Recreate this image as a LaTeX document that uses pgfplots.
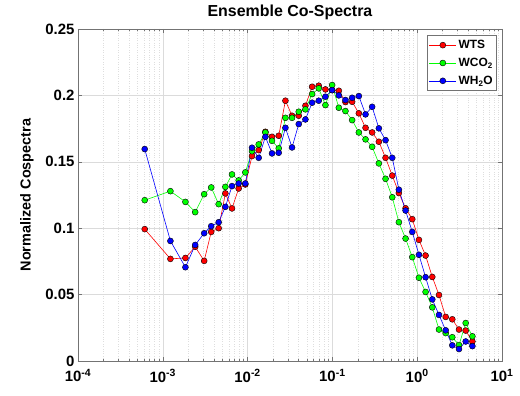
\documentclass[border=0pt]{standalone}
\usepackage{pgfplots}
\pgfplotsset{compat=1.18}
\usepackage{pgfplotstable}
\usepackage{fontspec}
\setmainfont{Liberation Sans}
\definecolor{mred}{RGB}{255,0,0}
\definecolor{mgreen}{RGB}{0,255,0}
\definecolor{mblue}{RGB}{0,0,255}
\pgfplotstableread{
f R G B
6.12e-4 0.0993 0.1211 0.1596
1.230e-3 0.0769 0.1279 0.0904
1.849e-3 0.0776 0.1198 0.0706
2.410e-3 0.0860 0.1121 0.0874
3.076e-3 0.0754 0.1256 0.0962
3.724e-3 0.0972 0.1307 0.1015
4.56e-3 0.1000 0.1181 0.1045
5.47e-3 0.1262 0.1311 0.1161
6.55e-3 0.1149 0.1405 0.1317
7.85e-3 0.1299 0.1360 0.1337
9.40e-3 0.1329 0.1420 0.1337
1.127e-2 0.1543 0.1580 0.1606
1.352e-2 0.1588 0.1631 0.1530
1.621e-2 0.1726 0.1721 0.1688
1.941e-2 0.1688 0.1658 0.1563
2.328e-2 0.1696 0.1601 0.1568
2.793e-2 0.1960 0.1831 0.1756
3.343e-2 0.1847 0.1831 0.1608
4.009e-2 0.1847 0.1877 0.1784
4.808e-2 0.1922 0.1895 0.1819
5.768e-2 0.2065 0.2010 0.1945
6.902e-2 0.2073 0.2053 0.1960
8.279e-2 0.2045 0.1927 0.1990
9.93e-2 0.2040 0.2078 0.2040
0.1191 0.2035 0.1907 0.2000
0.1426 0.1950 0.1882 0.1965
0.1710 0.1952 0.1814 0.1982
0.2051 0.1865 0.1721 0.1995
0.2460 0.1756 0.1669 0.1857
0.2944 0.1721 0.1613 0.1914
0.3532 0.1651 0.1488 0.1752
0.4236 0.1530 0.1372 0.1663
0.5082 0.1396 0.1233 0.1530
0.6081 0.1265 0.1045 0.1290
0.7295 0.1150 0.0922 0.1133
0.8750 0.1068 0.0782 0.0972
1.049 0.0912 0.0627 0.0800
1.256 0.0794 0.0520 0.0631
1.507 0.0633 0.0404 0.0464
1.807 0.0497 0.0237 0.0347
2.168 0.0332 0.0210 0.0231
2.594 0.0314 0.0179 0.0118
3.112 0.0237 0.0120 0.0090
3.733 0.0229 0.0286 0.0147
4.477 0.0147 0.0186 0.0112
}\datatab
\begin{document}
\begin{tikzpicture}
\begin{axis}[
  scale only axis, width=424bp, height=332bp,
  xmode=log, xmin=1e-4, xmax=10, ymin=0, ymax=0.25,
  xtick={1e-4,1e-3,1e-2,1e-1,1,10},
  xticklabels={10\textsuperscript{-4},10\textsuperscript{-3},10\textsuperscript{-2},10\textsuperscript{-1},10\textsuperscript{0},10\textsuperscript{1}},
  minor xtick={2e-4,3e-4,4e-4,5e-4,6e-4,7e-4,8e-4,9e-4,2e-3,3e-3,4e-3,5e-3,6e-3,7e-3,8e-3,9e-3,2e-2,3e-2,4e-2,5e-2,6e-2,7e-2,8e-2,9e-2,0.2,0.3,0.4,0.5,0.6,0.7,0.8,0.9,2,3,4,5,6,7,8,9},
  ytick={0,0.05,0.1,0.15,0.2,0.25},
  yticklabels={0,0.05,0.1,0.15,0.2,0.25},
  xmajorgrids, xminorgrids, ymajorgrids,
  major grid style={draw=black!14, line width=0.5bp},
  minor grid style={draw=black!13, dotted, line width=0.5bp},
  tick align=inside,
  axis line style={black!55, line width=0.5bp},
  tick style={black!55, line width=0.5bp},
  major tick length=4bp, minor tick length=2.5bp,
  every tick label/.append style={font=\fontsize{15}{15}\selectfont\bfseries},
  xticklabel style={yshift=-5bp},
  title={\fontsize{16}{16}\selectfont\bfseries Ensemble Co-Spectra},
  ylabel={\fontsize{14.5}{14.5}\selectfont\bfseries Normalized Cospectra},
  ylabel shift=5bp,
  legend cell align=left,
  legend style={at={(1,1)}, anchor=north east, xshift=-5bp, yshift=-6bp,
    draw=black!55, fill=white, line width=0.5bp,
    font=\fontsize{12}{12}\selectfont\bfseries,
    inner xsep=2bp, inner ysep=3bp, row sep=4bp},
  legend image code/.code={\draw[mark repeat=2,mark phase=2] plot coordinates {(0bp,0bp) (13.5bp,0bp) (27bp,0bp)};},
  every axis plot/.append style={line width=0.6bp, mark=*, mark size=3bp},
]
\addplot[mred, mark options={fill=mred, draw=black, line width=0.4bp}] table[x=f,y=R]{\datatab};
\addlegendentry{WTS}
\addplot[mgreen, mark options={fill=mgreen, draw=black, line width=0.4bp}] table[x=f,y=G]{\datatab};
\addlegendentry{WCO\textsubscript{2}}
\addplot[mblue, mark options={fill=mblue, draw=black, line width=0.4bp}] table[x=f,y=B]{\datatab};
\addlegendentry{WH\textsubscript{2}O}
\end{axis}
\path (current axis.south west) ++(-78bp,-35bp) rectangle ++(520bp,396bp);
\end{tikzpicture}
\end{document}
